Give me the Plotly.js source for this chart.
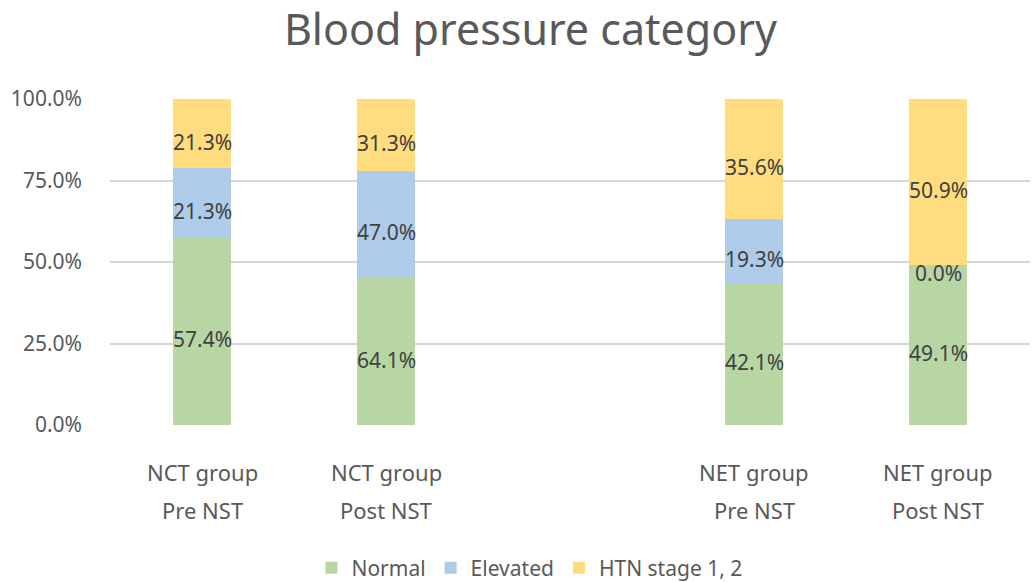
<!DOCTYPE html>
<html>
<head>
<meta charset="utf-8">
<script src="https://cdn.plot.ly/plotly-3.0.1.min.js"></script>
<style>html,body{margin:0;padding:0;background:#fff}#chart{width:1032px;height:582px}</style>
</head>
<body>
<div id="chart"></div>
<script>
// Data
const groupNames = ["NCT group", "NCT group", "", "NET group", "NET group"];
const phaseNames = ["Pre NST", "Post NST", "", "Pre NST", "Post NST"];
const seriesNames = ["Normal", "Elevated", "HTN stage 1, 2"];
const normal   = [57.4, 64.1, null, 42.1, 49.1];
const elevated = [21.3, 47.0, null, 19.3, 0.0];
const htn      = [21.3, 31.3, null, 35.6, 50.9];
const yTicks = [0, 25, 50, 75, 100];
const yTickText = yTicks.map(v => v.toFixed(1) + "%");

const colors = ["#B8D6A4", "#AECBEA", "#FFDC7E"];
const FONT = "Noto Sans, Open Sans, sans-serif";
const xs = groupNames.map((_, i) => i);
const series = [normal, elevated, htn];

const traces = series.map((vals, k) => ({
  type: "bar", x: xs, y: vals, name: seriesNames[k],
  marker: {color: colors[k], line: {width: 0}},
  width: 0.315, hoverinfo: "skip"
}));

const annotations = [];
// data labels at centres of normalized stack segments
xs.forEach(i => {
  const vals = series.map(s => s[i]);
  if (vals.some(v => v === null)) return;
  const tot = vals.reduce((a, b) => a + b, 0);
  let cum = 0;
  vals.forEach(v => {
    const h = v / tot * 100;
    annotations.push({x: i, xref: "x", y: cum + h / 2, yref: "y", yshift: -8,
      text: v.toFixed(1) + "%", showarrow: false, yanchor: "middle",
      font: {family: FONT, size: 21, color: "#404040"}});
    cum += h;
  });
});

xs.forEach(i => {
  if (!groupNames[i]) return;
  annotations.push({x: i, xref: "x", y: -0.144, yref: "paper", text: groupNames[i],
    showarrow: false, yanchor: "middle", font: {family: FONT, size: 22, color: "#595959"}});
  annotations.push({x: i, xref: "x", y: -0.261, yref: "paper", text: phaseNames[i],
    showarrow: false, yanchor: "middle", font: {family: FONT, size: 22, color: "#595959"}});
});

const layout = {
  width: 1032, height: 582,
  margin: {l: 110, r: 2, t: 99, b: 157},
  paper_bgcolor: "#fff", plot_bgcolor: "#fff",
  barmode: "stack", barnorm: "percent",
  title: {text: "Blood pressure category", x: 0.514, xanchor: "center", y: 0.948, yanchor: "middle",
    font: {family: FONT, size: 43, color: "#595959"}},
  xaxis: {range: [-0.5, 4.5], showticklabels: false, showgrid: false, zeroline: false,
    fixedrange: true},
  yaxis: {range: [0, 100], tickmode: "array", tickvals: yTicks, ticktext: yTickText,
    showgrid: true, gridcolor: "#D6D6D6", gridwidth: 2, zeroline: false,
    ticklabelstandoff: 27,
    tickfont: {family: FONT, size: 21, color: "#595959"}, fixedrange: true},
  showlegend: true,
  legend: {orientation: "h", xref: "container", x: 0.513, xanchor: "center",
    yref: "container", y: 0.024, yanchor: "middle",
    font: {family: FONT, size: 21, color: "#595959"}, itemwidth: 30, traceorder: "normal"},
  annotations: annotations
};

Plotly.newPlot("chart", traces, layout, {displayModeBar: false, staticPlot: true});
</script>
</body>
</html>
